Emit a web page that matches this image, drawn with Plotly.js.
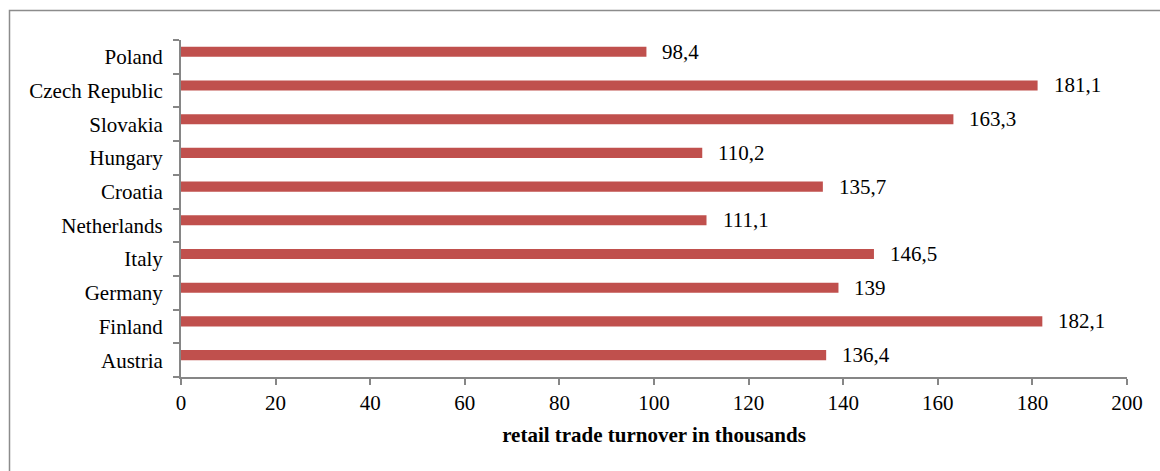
<!DOCTYPE html>
<html>
<head>
<meta charset="utf-8">
<script src="https://cdn.plot.ly/plotly-3.0.1.min.js"></script>
<style>
  html, body { margin: 0; padding: 0; background: #ffffff; }
  #chart { width: 1160px; height: 471px; }
</style>
</head>
<body>
<div id="chart"></div>
<script>
// Retail trade turnover by country (thousands)
const countries = ["Austria", "Finland", "Germany", "Italy", "Netherlands",
                   "Croatia", "Hungary", "Slovakia", "Czech Republic", "Poland"];
const turnover = [136.4, 182.1, 139, 146.5, 111.1, 135.7, 110.2, 163.3, 181.1, 98.4];
const xTicks = [0, 20, 40, 60, 80, 100, 120, 140, 160, 180, 200];

const FONT = "Liberation Serif";
const AXIS_GRAY = "#868686";

const W = 1160, H = 471;
const M = { l: 181, r: 33, t: 40, b: 94 };
const pw = W - M.l - M.r, ph = H - M.t - M.b;

// bars sit in the upper half of each category slot
const BAR_W = 0.3;
const slotPx = ph / countries.length;

// value labels placed just past the end of each bar
const labels = countries.map((c, i) => ({
  x: turnover[i], y: c, xref: "x", yref: "y",
  text: String(turnover[i]).replace(".", ","),
  showarrow: false, xanchor: "left", yanchor: "middle",
  xshift: 14, yshift: slotPx * BAR_W / 2,
  font: { family: FONT, size: 21, color: "#000000" }
}));

const trace = {
  type: "bar",
  orientation: "h",
  x: turnover,
  y: countries,
  width: BAR_W,
  offset: 0,
  marker: { color: "#C0504D" },
  hoverinfo: "x+y"
};

// outer frame around the whole chart (extends past the bottom/right edges)
const frame = {
  type: "rect", xref: "paper", yref: "paper", layer: "below",
  x0: (9.5 - M.l) / pw, x1: (1175 - M.l) / pw,
  y0: -(490 - (H - M.b)) / ph, y1: 1 + (M.t - 10.5) / ph,
  line: { color: "#8c8c8c", width: 1.5 }, fillcolor: "rgba(0,0,0,0)"
};

const layout = {
  width: W, height: H,
  margin: M,
  paper_bgcolor: "#ffffff",
  plot_bgcolor: "#ffffff",
  showlegend: false,
  font: { family: FONT, size: 21, color: "#000000" },
  xaxis: {
    range: [0, 200],
    tickvals: xTicks,
    ticktext: xTicks.map(String),
    showgrid: false, zeroline: false,
    showline: true, linecolor: AXIS_GRAY, linewidth: 2,
    ticks: "outside", ticklen: 6, tickwidth: 2, tickcolor: AXIS_GRAY,
    tickfont: { family: FONT, size: 21, color: "#000000" },
    title: { text: "<b>retail trade turnover in thousands</b>",
             font: { family: FONT, size: 21, color: "#000000" }, standoff: 13 },
    fixedrange: true
  },
  yaxis: {
    type: "category",
    categoryorder: "array", categoryarray: countries,
    range: [-0.5, countries.length - 0.5],
    showgrid: false, zeroline: false,
    showline: true, linecolor: AXIS_GRAY, linewidth: 2,
    ticks: "outside", tickson: "boundaries", ticklen: 6, tickwidth: 2, tickcolor: AXIS_GRAY,
    tickfont: { family: FONT, size: 21, color: "#000000" },
    ticklabelstandoff: 12,
    fixedrange: true
  },
  annotations: labels,
  shapes: [frame]
};

Plotly.newPlot("chart", [trace], layout, { displayModeBar: false, staticPlot: true });
</script>
</body>
</html>
